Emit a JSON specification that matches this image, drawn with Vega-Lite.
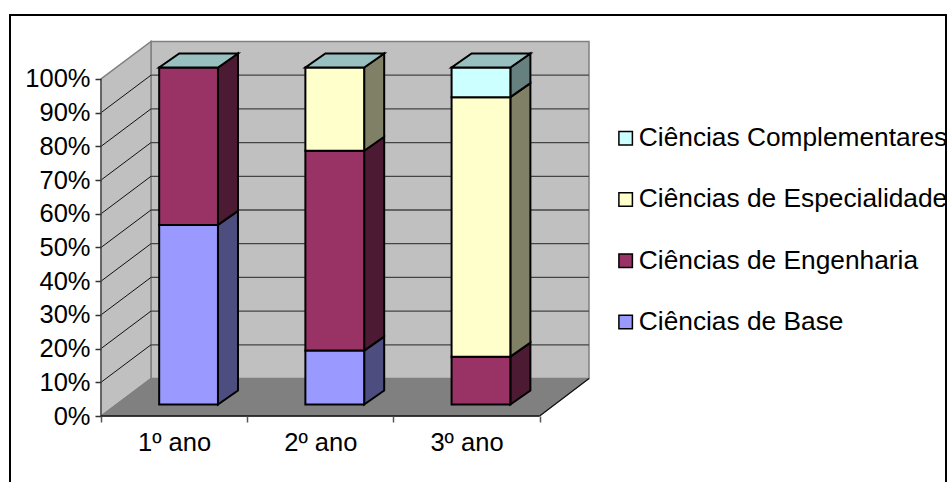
{
"$schema":"https://vega.github.io/schema/vega-lite/v6.json",
"width":936,"height":475,
"autosize":{"type":"none"},
"padding":{"left":10,"top":15,"right":2,"bottom":0},
"background":"white",
"view":{"stroke":"black","strokeWidth":2,"fill":null},
"config":{"font":"Liberation Sans"},
"data":{"values":[
{"ano":"1º ano","serie":"Ciências de Base","valor":53.3},
{"ano":"1º ano","serie":"Ciências de Engenharia","valor":46.7},
{"ano":"1º ano","serie":"Ciências de Especialidade","valor":0},
{"ano":"1º ano","serie":"Ciências Complementares","valor":0},
{"ano":"2º ano","serie":"Ciências de Base","valor":16},
{"ano":"2º ano","serie":"Ciências de Engenharia","valor":59.3},
{"ano":"2º ano","serie":"Ciências de Especialidade","valor":24.7},
{"ano":"2º ano","serie":"Ciências Complementares","valor":0},
{"ano":"3º ano","serie":"Ciências de Base","valor":0},
{"ano":"3º ano","serie":"Ciências de Engenharia","valor":14.2},
{"ano":"3º ano","serie":"Ciências de Especialidade","valor":77},
{"ano":"3º ano","serie":"Ciências Complementares","valor":8.8}
]},
"transform":[
{"calculate":"indexof(['Ciências de Base','Ciências de Engenharia','Ciências de Especialidade','Ciências Complementares'],datum.serie)","as":"ordem"},
{"calculate":"indexof(['1º ano','2º ano','3º ano'],datum.ano)","as":"idx"},
{"stack":"valor","groupby":["ano"],"sort":[{"field":"ordem","order":"ascending"}],"as":["v0","v1"]},
{"calculate":"datum.idx+0.398","as":"xa"},
{"calculate":"datum.idx+0.80","as":"xb"}
],
"encoding":{
"x":{"field":"x","type":"quantitative","title":null,
"scale":{"domain":[-0.6224,5.7798],"nice":false,"zero":false},
"axis":{"values":[0,0.5,1,1.5,2,2.5,3],"domain":false,"grid":false,"offset":-74,"tickSize":6,"tickColor":"#555555","tickWidth":1.5,
"tickOpacity":{"condition":{"test":"datum.value%1==0","value":1},"value":0},
"labelExpr":"datum.value%1==0?'':(floor(datum.value)+1)+'º ano'","labelFontSize":25.5,"labelColor":"black","labelFont":"Liberation Sans","labelPadding":8,"labelOverlap":false,"labelFlush":false,"labelBound":false,"labelAngle":0,"zindex":2}},
"y":{"field":"y","type":"quantitative","title":null,
"scale":{"domain":[-21.958,118.99],"nice":false,"zero":false},
"axis":{"values":[0,10,20,30,40,50,60,70,80,90,100],"domain":false,"grid":false,"offset":-91,"tickSize":6,"tickColor":"#333333","tickWidth":1.5,
"labelExpr":"datum.value+'%'","labelFontSize":25.5,"labelColor":"black","labelFont":"Liberation Sans","labelPadding":5,"labelOverlap":false,"labelBound":false,"zindex":2}}
},
"layer":[
{"data":{"values":[{"x":0.342,"x2":3.338,"y":11.13,"y2":111.13}]},
"mark":{"type":"rect","fill":"#C0C0C0","stroke":"#808080","strokeWidth":1.5},
"encoding":{"x2":{"field":"x2"},"y2":{"field":"y2"}}},
{"data":{"values":[{"x":0,"y":0,"y2":100},{"x":0.342,"y":11.13,"y2":111.13}]},
"mark":{"type":"area","fill":"#C0C0C0","stroke":"#808080","strokeWidth":1.5},
"encoding":{"y2":{"field":"y2"}}},
{"data":{"values":[{"x":0,"y":0,"y2":0},{"x":0.342,"y":0,"y2":11.13},{"x":3,"y":0,"y2":11.13},{"x":3.338,"y":11.13,"y2":11.13}]},
"mark":{"type":"area","fill":"#808080","stroke":"#808080","strokeWidth":1},
"encoding":{"y2":{"field":"y2"}}},
{"data":{"values":[{"pct":10},{"pct":20},{"pct":30},{"pct":40},{"pct":50},{"pct":60},{"pct":70},{"pct":80},{"pct":90}]},
"transform":[{"calculate":"0.342","as":"x"},{"calculate":"3.338","as":"x2"},{"calculate":"datum.pct+11.13","as":"y"}],
"mark":{"type":"rule","stroke":"#444444","strokeWidth":1.3},
"encoding":{"x2":{"field":"x2"}}},
{"data":{"values":[{"pct":10},{"pct":20},{"pct":30},{"pct":40},{"pct":50},{"pct":60},{"pct":70},{"pct":80},{"pct":90}]},
"transform":[{"calculate":"0","as":"x"},{"calculate":"0.342","as":"x2"},{"calculate":"datum.pct","as":"y"},{"calculate":"datum.pct+11.13","as":"y2"}],
"mark":{"type":"rule","stroke":"#111111","strokeWidth":1},
"encoding":{"x2":{"field":"x2"},"y2":{"field":"y2"}}},
{"data":{"values":[{"x":0,"x2":0,"y":0,"y2":100}]},
"mark":{"type":"rule","stroke":"#555555","strokeWidth":1.5},
"encoding":{"x2":{"field":"x2"},"y2":{"field":"y2"}}},
{"data":{"values":[{"x":0,"x2":3,"y":0,"y2":0},{"x":3,"x2":3.338,"y":0,"y2":11.13}]},
"mark":{"type":"rule","stroke":"#111111","strokeWidth":1.3},
"encoding":{"x2":{"field":"x2"},"y2":{"field":"y2"}}},
{"transform":[{"filter":"datum.valor>0"},
{"calculate":"[0,1]","as":"t"},{"flatten":["t"]},
{"calculate":"datum.xb+datum.t*0.137","as":"x"},
{"calculate":"datum.v0+3.41+datum.t*4.15","as":"y"},
{"calculate":"datum.v1+3.41+datum.t*4.15","as":"y2"}],
"mark":{"type":"area","stroke":"black","strokeWidth":2},
"encoding":{"y2":{"field":"y2"},"detail":{"field":"ano"},
"fill":{"field":"serie","legend":null,"scale":{"domain":["Ciências Complementares","Ciências de Especialidade","Ciências de Engenharia","Ciências de Base"],"range":["#668080","#808066","#4D1A33","#4D4D80"]}}}},
{"transform":[{"filter":"datum.valor>0"},
{"calculate":"datum.xa","as":"x"},{"calculate":"datum.xb","as":"x2"},
{"calculate":"datum.v0+3.41","as":"y"},{"calculate":"datum.v1+3.41","as":"y2"}],
"mark":{"type":"rect","stroke":"black","strokeWidth":2},
"encoding":{"x2":{"field":"x2"},"y2":{"field":"y2"},
"fill":{"field":"serie","sort":null,"scale":{"domain":["Ciências Complementares","Ciências de Especialidade","Ciências de Engenharia","Ciências de Base"],"range":["#CCFFFF","#FFFFCC","#993366","#9999FF"]},
"legend":{"title":null,"orient":"none","legendX":602.5,"legendY":110,"symbolType":"square","symbolSize":182,"symbolStrokeColor":"black","symbolStrokeWidth":1.5,"labelFontSize":26.3,"labelFont":"Liberation Sans","labelColor":"black","labelOffset":0,"labelLimit":400,"rowPadding":34.3,"padding":0}}}},
{"transform":[{"filter":"datum.serie=='Ciências Complementares'"},
{"calculate":"[0,1,2,3]","as":"p"},{"flatten":["p"]},
{"calculate":"datum.xa+[0,0.137,0.402,0.539][datum.p]","as":"x"},
{"calculate":"103.41+[0,0,0,4.15][datum.p]","as":"y"},
{"calculate":"103.41+[0,4.15,4.15,4.15][datum.p]","as":"y2"}],
"mark":{"type":"area","fill":"#99C0C0","stroke":"black","strokeWidth":2},
"encoding":{"y2":{"field":"y2"},"detail":{"field":"ano"}}}
],
"resolve":{"scale":{"fill":"independent"}}
}
